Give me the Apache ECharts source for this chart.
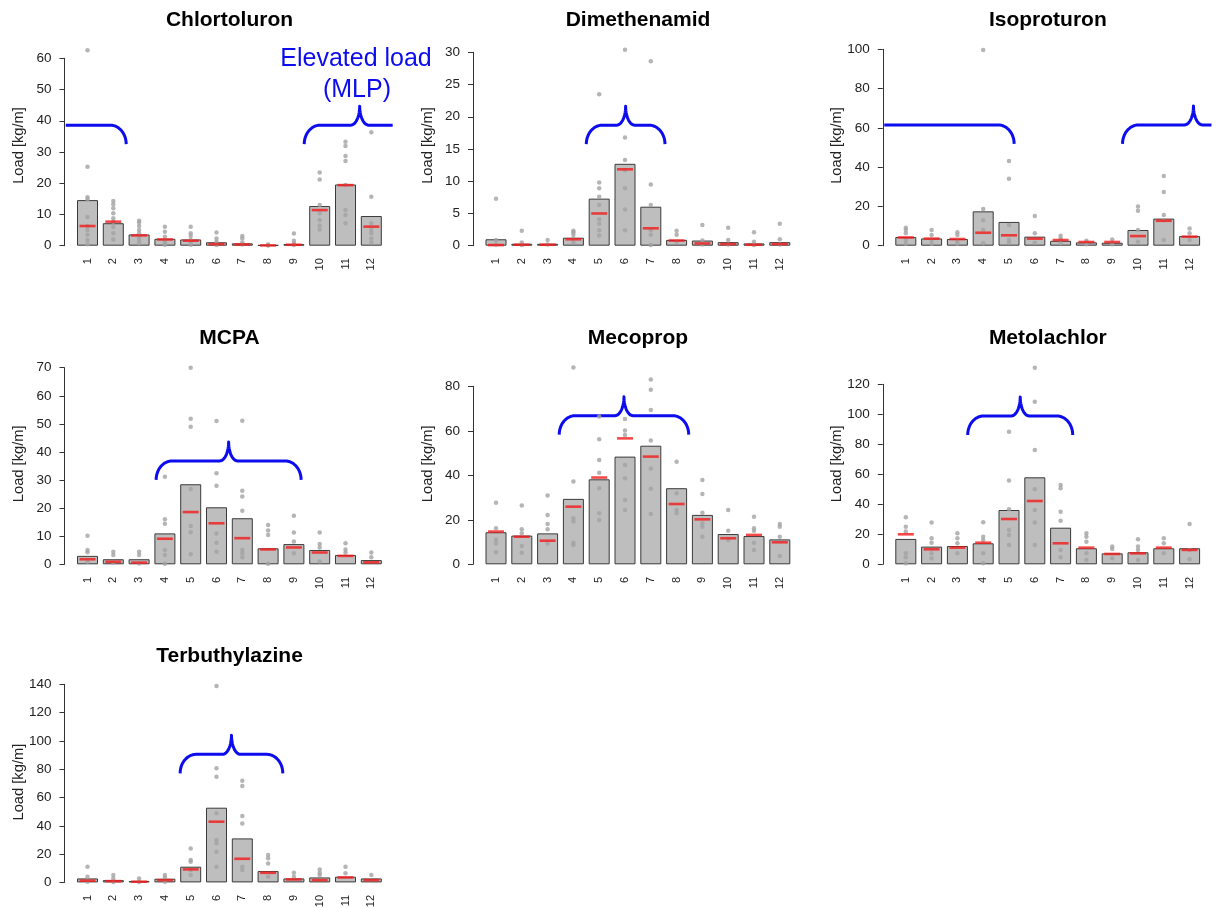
<!DOCTYPE html>
<html>
<head>
<meta charset="utf-8">
<script src="https://cdn.jsdelivr.net/npm/echarts@6/dist/echarts.min.js"></script>
<style>
  html, body { margin: 0; padding: 0; background: #fff; }
  #main { width: 1217px; height: 908px; }
</style>
</head>
<body>
<div id="main"></div>
<script>
// months on the x axis
var months = ['1', '2', '3', '4', '5', '6', '7', '8', '9', '10', '11', '12'];

// Chlortoluron
var chlortoluronBars = [14.6, 7.2, 3.6, 2.2, 2.0, 1.1, 0.75, 0.2, 0.5, 12.7, 19.6, 9.5];
var chlortoluronMedian = [6.3, 7.7, 3.3, 2.0, 1.6, 0.5, 0.4, 0.1, 0.3, 11.4, 19.4, 6.1];
var chlortoluronPoints = [
  [62.6, 25.3, 15.5, 14.8, 9.2, 6.3, 5.0, 3.5, 1.8, 0.5],
  [14.3, 13.3, 12.0, 10.4, 8.8, 7.7, 6.0, 4.0, 2.0],
  [8.0, 7.4, 6.3, 5.0, 4.0, 2.9, 1.8, 0.8],
  [6.1, 4.5, 2.9, 1.8, 1.0, 0.3],
  [6.1, 4.0, 3.1, 1.8, 1.0, 0.3],
  [4.2, 2.3, 1.3, 0.7, 0.2],
  [3.1, 2.3, 1.0, 0.4],
  [0.4, 0.2, 0.1],
  [3.9, 1.6, 0.7, 0.2],
  [23.4, 21.2, 13.0, 10.4, 8.2, 6.5, 5.2],
  [33.3, 31.9, 28.7, 27.1, 19.4, 11.4, 9.8, 7.2],
  [36.3, 15.7, 7.2, 5.0, 4.0, 2.3, 1.0]
];
var chlortoluronBraces = [[-3.0, 2.5, 38.6], [9.4, 13.7, 38.6]]; // [from month, to month, level]

// Dimethenamid
var dimethenamidBars = [1.0, 0.3, 0.3, 1.24, 7.3, 12.7, 6.05, 0.9, 0.8, 0.55, 0.35, 0.55];
var dimethenamidMedian = [0.1, 0.15, 0.15, 1.0, 5.0, 11.85, 2.7, 0.8, 0.35, 0.25, 0.15, 0.25];
var dimethenamidPoints = [
  [7.3, 0.9, 0.2],
  [2.3, 0.5, 0.1],
  [0.9, 0.2],
  [2.3, 2.1, 1.7, 1.1, 0.5],
  [23.5, 9.8, 8.9, 7.6, 6.3, 4.1, 3.4, 2.4, 1.6],
  [30.4, 16.8, 13.3, 11.7, 8.9, 5.6, 2.4],
  [28.6, 9.5, 6.3, 2.4, 1.7, 0.1],
  [2.3, 1.7, 0.6],
  [3.2, 0.8, 0.2],
  [2.8, 0.9, 0.2],
  [2.1, 0.6, 0.1],
  [3.4, 1.0, 0.2]
];
var dimethenamidBraces = [[4.5, 7.55, 18.7]];

// Isoproturon
var isoproturonBars = [4.4, 3.7, 3.4, 17.5, 12.1, 4.6, 2.5, 1.7, 1.5, 8.0, 13.8, 4.9];
var isoproturonMedian = [4.2, 3.6, 3.4, 6.6, 5.3, 3.6, 2.9, 1.9, 1.9, 4.9, 12.7, 4.6];
var isoproturonPoints = [
  [9.2, 8.0, 6.3, 2.9, 1.0],
  [8.0, 5.4, 2.9, 1.0],
  [6.8, 5.4, 2.5, 1.0],
  [99.7, 18.7, 13.0, 8.0, 1.2],
  [43.1, 34.1, 10.5, 2.9, 1.5],
  [15.1, 6.3, 1.5],
  [5.1, 3.6, 1.2],
  [2.5, 0.8],
  [3.2, 0.8],
  [19.9, 17.8, 8.0, 2.0],
  [35.5, 27.3, 15.6, 13.0, 2.9],
  [8.8, 6.3, 2.9]
];
var isoproturonBraces = [[-5.8, 5.2, 61.5], [9.4, 14.9, 61.5]];

// MCPA
var mcpaBars = [3.0, 1.8, 1.8, 11.0, 28.5, 20.3, 16.4, 5.7, 7.2, 5.1, 3.3, 1.5];
var mcpaMedian = [1.8, 0.9, 0.6, 9.1, 18.6, 14.6, 9.3, 5.3, 6.0, 4.2, 3.0, 0.7];
var mcpaPoints = [
  [10.2, 5.1, 4.3, 0.9],
  [4.5, 3.3, 0.6],
  [4.5, 3.3, 0.3],
  [31.2, 16.0, 14.4, 5.1, 3.3, 0.2],
  [70.0, 51.8, 49.0, 26.8, 13.6, 11.4, 3.6],
  [51.0, 32.4, 28.0, 11.0, 7.7, 4.5],
  [51.1, 26.2, 24.1, 19.1, 5.1, 3.9, 2.5],
  [14.0, 12.0, 10.4, 0.2],
  [17.3, 11.3, 8.1, 3.9],
  [11.3, 7.2, 6.0, 1.0],
  [7.5, 5.3, 4.2],
  [4.2, 2.5]
];
var mcpaBraces = [[3.66, 9.28, 36.8]];

// Mecoprop
var mecopropBars = [14.4, 12.9, 13.9, 29.4, 38.2, 48.4, 53.3, 34.2, 22.2, 13.6, 12.7, 11.2];
var mecopropMedian = [14.7, 12.4, 10.6, 25.9, 39.0, 56.6, 48.4, 27.1, 20.2, 11.7, 13.2, 9.9];
var mecopropPoints = [
  [27.7, 16.2, 11.0, 9.4, 5.4],
  [26.4, 15.7, 13.9, 8.2, 5.2],
  [30.9, 22.2, 18.1, 15.7, 9.4],
  [88.4, 37.2, 20.7, 19.2, 9.7, 8.7],
  [66.4, 56.2, 46.9, 41.2, 34.2, 22.9, 19.9],
  [65.3, 60.1, 58.1, 44.6, 38.7, 28.9, 24.4],
  [83.1, 78.4, 69.4, 55.6, 43.1, 33.9, 22.6],
  [46.1, 31.9, 24.4, 22.9],
  [37.9, 31.6, 23.2, 18.4, 16.9, 12.4],
  [24.4, 15.1, 10.9],
  [21.4, 16.2, 15.1, 9.7, 6.4],
  [18.1, 16.9, 12.4, 3.7]
];
var mecopropBraces = [[3.45, 8.47, 66.8]];

// Metolachlor
var metolachlorBars = [16.9, 11.8, 12.2, 14.0, 36.2, 58.0, 24.4, 10.7, 7.3, 8.0, 10.7, 10.7];
var metolachlorMedian = [20.0, 10.0, 11.1, 14.4, 30.2, 42.2, 14.0, 11.1, 6.9, 7.3, 11.1, 9.6];
var metolachlorPoints = [
  [31.3, 25.1, 21.8, 7.3, 4.7, 0.7],
  [27.8, 17.3, 14.4, 7.3, 4.0],
  [20.7, 17.3, 14.0, 7.3],
  [28.0, 18.4, 16.2, 7.3, 0.7],
  [88.4, 55.8, 36.7, 22.9, 19.6, 12.9],
  [131.1, 108.4, 76.2, 50.0, 36.2, 27.8, 12.9],
  [52.9, 50.7, 35.1, 29.1, 9.6, 4.7],
  [20.7, 18.4, 15.1, 7.3, 2.9],
  [11.8, 10.2, 4.0],
  [16.7, 11.8, 9.6, 2.9],
  [17.3, 14.0, 7.3],
  [26.9, 9.6, 3.3]
];
var metolachlorBraces = [[3.4, 7.47, 98.9]];

// Terbuthylazine
var terbuthylazineBars = [2.8, 1.6, 0.9, 2.6, 11.1, 52.8, 31.1, 8.0, 2.8, 3.5, 4.0, 2.8];
var terbuthylazineMedian = [1.2, 0.9, 0.5, 1.6, 9.2, 42.9, 16.7, 6.8, 2.1, 1.6, 3.5, 1.6];
var terbuthylazinePoints = [
  [11.1, 4.0, 0.5],
  [5.2, 2.8, 0.3],
  [2.8, 0.3],
  [5.2, 3.5, 0.5],
  [24.0, 15.8, 14.6, 8.7, 5.2],
  [138.8, 80.6, 74.7, 48.8, 29.9, 27.6, 21.7, 11.1],
  [71.9, 68.1, 46.9, 41.7, 11.1, 8.7],
  [19.3, 17.0, 13.4, 4.0],
  [6.8, 4.0],
  [9.2, 6.8, 5.2],
  [11.1, 6.4],
  [5.2]
];
var terbuthylazineBraces = [[4.59, 8.57, 90.5]];

var panels = [
  { name: 'Chlortoluron', bars: chlortoluronBars, median: chlortoluronMedian, points: chlortoluronPoints, braces: chlortoluronBraces, max: 60, step: 10 },
  { name: 'Dimethenamid', bars: dimethenamidBars, median: dimethenamidMedian, points: dimethenamidPoints, braces: dimethenamidBraces, max: 30, step: 5 },
  { name: 'Isoproturon', bars: isoproturonBars, median: isoproturonMedian, points: isoproturonPoints, braces: isoproturonBraces, max: 100, step: 20 },
  { name: 'MCPA', bars: mcpaBars, median: mcpaMedian, points: mcpaPoints, braces: mcpaBraces, max: 70, step: 10 },
  { name: 'Mecoprop', bars: mecopropBars, median: mecopropMedian, points: mecopropPoints, braces: mecopropBraces, max: 80, step: 20 },
  { name: 'Metolachlor', bars: metolachlorBars, median: metolachlorMedian, points: metolachlorPoints, braces: metolachlorBraces, max: 120, step: 20 },
  { name: 'Terbuthylazine', bars: terbuthylazineBars, median: terbuthylazineMedian, points: terbuthylazinePoints, braces: terbuthylazineBraces, max: 140, step: 20 }
];

// layout (pixels)
var colFirst = [87.5, 496, 905.8];      // centre of the first bar in each column
var rowZero = [245.7, 564.3, 882.4];    // y of the zero line in each row
var topPx = [58.3, 52.3, 49.3, 367.7, 386.3, 384.3, 684.3]; // y of the top tick
var band = 25.8;
var axisGap = 23;                        // plot-region edge to first bar centre
var font = '"Liberation Sans", Arial, Helvetica, sans-serif';
var blue = '#0c0cee';

function braceRenderer(list) {
  return function (params, api) {
    var b = list[params.dataIndex];
    var a0 = api.coord([months[0], b[2]]);
    var a1 = api.coord([months[1], b[2]]);
    var u = a1[0] - a0[0];
    var toX = function (m) { return a0[0] + (m - 1) * u; };
    var y = a0[1];
    var xL = toX(b[0]), xR = toX(b[1]), xC = (xL + xR) / 2;
    var lo = a0[0] - axisGap, hi = toX(12) + (axisGap - 1);
    var D = 19, W = 16, P = 9, N = 14;
    var pts = [], k, t, x;
    for (k = 0; k <= N; k++) { t = k / N * Math.PI / 2; pts.push([xL + W - W * Math.cos(t), y + D - D * Math.sin(t)]); }
    for (x = xL + W; x < xC - P; x += 1.5) pts.push([x, y]);
    for (k = 0; k <= N; k++) { t = k / N * Math.PI / 2; pts.push([xC - P + P * Math.sin(t), y - D + D * Math.cos(t)]); }
    for (k = N; k >= 0; k--) { t = k / N * Math.PI / 2; pts.push([xC + P - P * Math.sin(t), y - D + D * Math.cos(t)]); }
    for (x = xC + P; x < xR - W; x += 1.5) pts.push([x, y]);
    for (k = N; k >= 0; k--) { t = k / N * Math.PI / 2; pts.push([xR - W + W * Math.cos(t), y + D - D * Math.sin(t)]); }
    var runs = [], cur = [];
    pts.forEach(function (q) {
      if (q[0] >= lo && q[0] <= hi) cur.push(q);
      else if (cur.length) { runs.push(cur); cur = []; }
    });
    if (cur.length) runs.push(cur);
    return {
      type: 'group',
      children: runs.filter(function (r) { return r.length > 1; }).map(function (r) {
        return { type: 'polyline', shape: { points: r }, style: { stroke: blue, lineWidth: 3, fill: null, lineJoin: 'round' } };
      })
    };
  };
}

var chart = echarts.init(document.getElementById('main'));
var option = { animation: false, backgroundColor: '#fff', grid: [], xAxis: [], yAxis: [], series: [], graphic: [] };

panels.forEach(function (p, i) {
  var c = i % 3, r = Math.floor(i / 3);
  var axisX = colFirst[c] - axisGap;
  option.grid.push({
    left: colFirst[c] - band / 2, width: band * 12, top: topPx[i], height: rowZero[r] - topPx[i],
    containLabel: false, outerBoundsMode: 'none'
  });
  option.xAxis.push({
    gridIndex: i, type: 'category', data: months,
    axisLine: { show: false }, axisTick: { show: false }, splitLine: { show: false },
    axisLabel: { rotate: 90, interval: 0, fontSize: 11, color: '#222', margin: 12.5, fontFamily: font }
  });
  option.yAxis.push({
    gridIndex: i, type: 'value', min: 0, max: p.max, interval: p.step, offset: colFirst[c] - band / 2 - axisX,
    axisLine: { show: true, lineStyle: { color: '#333', width: 1 } },
    axisTick: { show: true, length: 5, lineStyle: { color: '#333' } },
    splitLine: { show: false },
    axisLabel: { fontSize: 13.5, color: '#222', margin: 13, fontFamily: font }
  });

  var dots = [];
  p.points.forEach(function (vals, m) {
    vals.forEach(function (v) { dots.push([months[m], v]); });
  });

  option.series.push({
    type: 'bar', xAxisIndex: i, yAxisIndex: i, data: p.bars, barWidth: 21,
    itemStyle: { color: '#bebebe', borderColor: '#3a3a3a', borderWidth: 1 }
  });
  option.series.push({
    type: 'scatter', xAxisIndex: i, yAxisIndex: i, data: dots, clip: false,
    symbol: 'circle', symbolSize: 4.5, itemStyle: { color: '#a3a3a3' }
  });
  option.series.push({
    type: 'scatter', xAxisIndex: i, yAxisIndex: i, clip: false,
    data: p.median.map(function (v, m) { return [months[m], v]; }),
    symbol: 'rect', symbolSize: [16, 2.6], itemStyle: { color: '#f21b1b' }
  });
  option.series.push({
    type: 'custom', xAxisIndex: i, yAxisIndex: i, clip: false, silent: true,
    data: p.braces.map(function (b) { return [months[0], b[2]]; }),
    renderItem: braceRenderer(p.braces)
  });

  option.graphic.push({
    type: 'text', x: axisX + 165, y: 20 + r * 318.3,
    style: { text: p.name, fontSize: 21, fontWeight: 'bold', fontFamily: font, fill: '#000', textAlign: 'center', textVerticalAlign: 'middle' }
  });
  option.graphic.push({
    type: 'text', x: axisX - 45.5, y: 145.5 + r * 318.3, rotation: Math.PI / 2,
    style: { text: 'Load [kg/m]', fontSize: 14.7, fontFamily: font, fill: '#222', textAlign: 'center', textVerticalAlign: 'middle' }
  });
});

option.graphic.push({
  type: 'text', x: 356, y: 59,
  style: { text: 'Elevated load', fontSize: 25, fontFamily: font, fill: blue, textAlign: 'center', textVerticalAlign: 'middle' }
});
option.graphic.push({
  type: 'text', x: 357, y: 90,
  style: { text: '(MLP)', fontSize: 25, fontFamily: font, fill: blue, textAlign: 'center', textVerticalAlign: 'middle' }
});

chart.setOption(option);
</script>
</body>
</html>
